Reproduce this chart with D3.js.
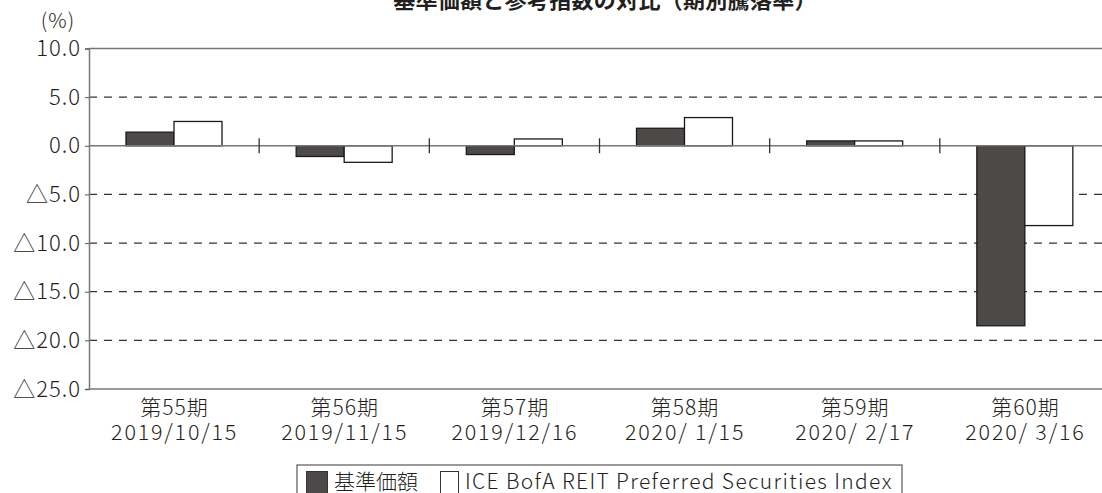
<!DOCTYPE html>
<html>
<head>
<meta charset="utf-8">
<script src="https://cdn.jsdelivr.net/npm/d3@7"></script>
<style>
  html, body { margin: 0; padding: 0; background: #fff; }
  svg { display: block; }
  text { font-family: "Noto Sans CJK JP", "Noto Sans", sans-serif; fill: #231f20; font-weight: 300; }
</style>
</head>
<body>
<svg id="chart" width="1102" height="493"></svg>
<script>
// ---- data ----
const periods = ["第55期", "第56期", "第57期", "第58期", "第59期", "第60期"];
const dates = ["2019/10/15", "2019/11/15", "2019/12/16", "2020/ 1/15", "2020/ 2/17", "2020/ 3/16"];
const seriesNames = ["基準価額", "ICE BofA REIT Preferred Securities Index"];
const fundReturns = [1.4, -1.1, -0.9, 1.8, 0.5, -18.5];
const indexReturns = [2.5, -1.7, 0.7, 2.9, 0.5, -8.2];
const yTicks = [10, 5, 0, -5, -10, -15, -20, -25];
const titleText = "基準価額と参考指数の対比（期別騰落率）";
const unitText = "(%)";

// ---- layout ----
const svg = d3.select("#chart");
const plotLeft = 89, plotRight = 1110, plotTop = 48.5, plotBottom = 389;
const darkFill = "#4d4948";

const x = d3.scaleBand().domain(periods).range([plotLeft, plotRight]).padding(0);
const inner = d3.scaleBand().domain([0, 1]).range([37, 133]).padding(0);
const y = d3.scaleLinear().domain([-25, 10]).range([plotBottom, plotTop]);

const fmt = v => (v < 0 ? "△" : "") + Math.abs(v).toFixed(1);

// title
svg.append("text").attr("x", 605).attr("y", 8).attr("text-anchor", "middle")
  .attr("font-size", 22).style("font-weight", "bold").attr("letter-spacing", 0.3).text(titleText);

// unit
svg.append("text").attr("x", 58).attr("y", 27.5).attr("text-anchor", "middle")
  .attr("font-size", 20.5).attr("letter-spacing", 1).text(unitText);

// dashed gridlines
svg.append("g").selectAll("line")
  .data(yTicks.filter(v => v !== 10 && v !== 0 && v !== -25))
  .join("line")
  .attr("x1", plotLeft).attr("x2", plotRight)
  .attr("y1", d => y(d)).attr("y2", d => y(d))
  .attr("stroke", "#333").attr("stroke-width", 1.2)
  .attr("stroke-dasharray", "8,7");

// frame lines (top, bottom)
svg.append("line").attr("x1", plotLeft).attr("x2", plotRight).attr("y1", y(10)).attr("y2", y(10))
  .attr("stroke", "#777").attr("stroke-width", 1.5);
svg.append("line").attr("x1", plotLeft).attr("x2", plotRight).attr("y1", y(-25)).attr("y2", y(-25))
  .attr("stroke", "#777").attr("stroke-width", 1.5);

// y axis
const yAxis = d3.axisLeft(y).tickValues(yTicks).tickFormat(fmt).tickSize(4).tickPadding(4);
const gy = svg.append("g").attr("transform", `translate(${plotLeft},0)`).call(yAxis);
gy.select(".domain").attr("stroke", "#777").attr("stroke-width", 1.5);
gy.selectAll(".tick line").attr("stroke", "#555");
gy.selectAll(".tick text").attr("font-size", 22).attr("fill", "#231f20")
  .attr("letter-spacing", 1)
  .attr("font-family", "'Noto Sans CJK JP', sans-serif");

// bars
const groups = svg.append("g").selectAll("g")
  .data(periods.map((p, i) => ({ p, vals: [fundReturns[i], indexReturns[i]] })))
  .join("g")
  .attr("transform", d => `translate(${x(d.p)},0)`);

groups.selectAll("rect")
  .data(d => d.vals.map((v, k) => ({ v, k })))
  .join("rect")
  .attr("x", d => inner(d.k))
  .attr("width", inner.bandwidth())
  .attr("y", d => y(Math.max(0, d.v)))
  .attr("height", d => Math.abs(y(d.v) - y(0)))
  .attr("fill", d => d.k === 0 ? darkFill : "#fff")
  .attr("stroke", "#1a1a1a").attr("stroke-width", 1.3);

// zero line
svg.append("line").attr("x1", plotLeft).attr("x2", plotRight).attr("y1", y(0)).attr("y2", y(0))
  .attr("stroke", "#777").attr("stroke-width", 1.5);

// category separators
svg.append("g").selectAll("line")
  .data(periods.slice(1))
  .join("line")
  .attr("x1", d => x(d)).attr("x2", d => x(d))
  .attr("y1", y(0) - 7.5).attr("y2", y(0) + 7.5)
  .attr("stroke", "#333").attr("stroke-width", 1.3);

// category labels
const cats = svg.append("g").selectAll("g")
  .data(periods.map((p, i) => ({ p, d: dates[i] })))
  .join("g")
  .attr("transform", d => `translate(${x(d.p) + x.bandwidth() / 2 + 0.5},0)`);
cats.append("text").attr("y", 415).attr("text-anchor", "middle").attr("font-size", 21)
  .attr("letter-spacing", 1).text(d => d.p);
cats.append("text").attr("y", 439.5).attr("text-anchor", "middle").attr("font-size", 21.5)
  .attr("letter-spacing", 1.8).style("white-space", "pre").text(d => d.d);

// legend
const lg = svg.append("g");
lg.append("rect").attr("x", 297).attr("y", 465).attr("width", 605).attr("height", 40)
  .attr("fill", "#fff").attr("stroke", "#666").attr("stroke-width", 1.3);
lg.append("rect").attr("x", 306.5).attr("y", 471.5).attr("width", 21).attr("height", 22)
  .attr("fill", darkFill).attr("stroke", "#333").attr("stroke-width", 1);
lg.append("text").attr("x", 334).attr("y", 489).attr("font-size", 21).text(seriesNames[0]);
lg.append("rect").attr("x", 440.5).attr("y", 471.5).attr("width", 18).attr("height", 22)
  .attr("fill", "#fff").attr("stroke", "#333").attr("stroke-width", 1);
lg.append("text").attr("x", 465).attr("y", 489).attr("font-size", 21).attr("letter-spacing", 1.35)
  .text(seriesNames[1]);
</script>
</body>
</html>
